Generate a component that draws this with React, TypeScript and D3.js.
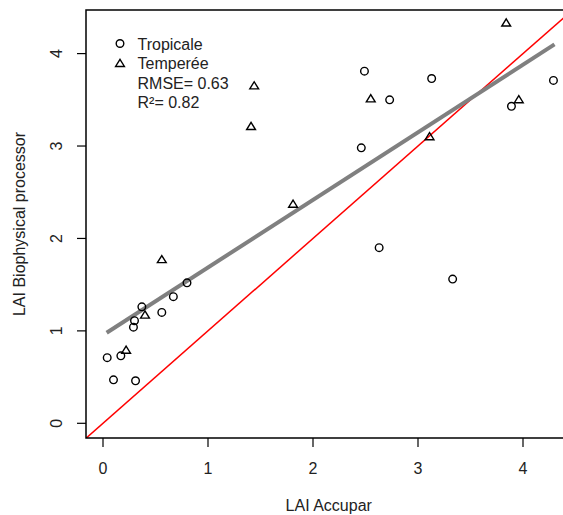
import React from "react";
import * as d3 from "d3";

const tropX = [0.04, 0.10, 0.31, 0.17, 0.29, 0.30, 0.37, 0.56, 0.67, 0.80, 2.49, 2.73, 3.13, 2.46, 4.29, 3.89, 2.63, 3.33];
const tropY = [0.71, 0.47, 0.46, 0.73, 1.04, 1.11, 1.26, 1.20, 1.37, 1.52, 3.81, 3.50, 3.73, 2.98, 3.71, 3.43, 1.90, 1.56];
const tempX = [0.40, 0.56, 0.22, 2.55, 3.11, 3.84, 3.96, 1.44, 1.41, 1.81];
const tempY = [1.17, 1.77, 0.79, 3.51, 3.10, 4.33, 3.50, 3.65, 3.21, 2.37];
const fitX = [0.035, 4.30];
const fitY = [0.98, 4.10];
const xTicks = [0, 1, 2, 3, 4];
const yTicks = [0, 1, 2, 3, 4];
const legendLabels = ["Tropicale", "Temperée", "RMSE= 0.63", "R²= 0.82"];

export default function App() {
  const W = 563, H = 515;
  const left = 86, top = 10, bottom = 438;
  const x = d3.scaleLinear().domain([0, 4]).range([103, 523]);
  const y = d3.scaleLinear().domain([0, 4]).range([423.3, 53.6]);
  const x0 = x.invert(left), x1 = x.invert(W + 5);
  const font = "Liberation Sans, Arial, sans-serif";
  const fs = 16;
  const tri = (cx: number, cy: number) => {
    const s = 4.2;
    return `M${cx},${cy - s}L${cx + s * 1.05},${cy + s * 0.7}L${cx - s * 1.05},${cy + s * 0.7}Z`;
  };
  const line = d3.line<[number, number]>().x(d => x(d[0])).y(d => y(d[1]));
  return (
    <svg width={W} height={H} style={{ position: "absolute", left: 0, top: 0 }} fontFamily={font}>
      <rect x={0} y={0} width={W} height={H} fill="white" />
      <defs>
        <clipPath id="clip">
          <rect x={left} y={top} width={W - left + 10} height={bottom - top} />
        </clipPath>
      </defs>
      <g clipPath="url(#clip)">
        <path d={line([[x0, x0], [x1, x1]]) || ""} stroke="#ff0000" strokeWidth={1.5} fill="none" />
        <path d={line([[fitX[0], fitY[0]], [fitX[1], fitY[1]]]) || ""} stroke="#808080" strokeWidth={4} fill="none" />
        {tropX.map((v, i) => (
          <circle key={"c" + i} cx={x(v)} cy={y(tropY[i])} r={3.8} fill="none" stroke="#000" strokeWidth={1.4} />
        ))}
        {tempX.map((v, i) => (
          <path key={"t" + i} d={tri(x(v), y(tempY[i]))} fill="none" stroke="#000" strokeWidth={1.4} />
        ))}
      </g>
      <path d={`M${W + 5},${top}H${left}V${bottom}H${W + 5}`} fill="none" stroke="#000" strokeWidth={1.5} />
      {xTicks.map(t => (
        <g key={"xt" + t}>
          <line x1={x(t)} x2={x(t)} y1={bottom} y2={bottom + 9} stroke="#000" strokeWidth={1.2} />
          <text x={x(t)} y={474} textAnchor="middle" fontSize={fs} fill="#222">{t}</text>
        </g>
      ))}
      {yTicks.map(t => (
        <g key={"yt" + t}>
          <line x1={left - 9} x2={left} y1={y(t)} y2={y(t)} stroke="#000" strokeWidth={1.2} />
          <text transform={`translate(62,${y(t)}) rotate(-90)`} textAnchor="middle" fontSize={fs} fill="#222">{t}</text>
        </g>
      ))}
      <text x={x(2.15)} y={511} textAnchor="middle" fontSize={fs} fill="#222">LAI Accupar</text>
      <text transform={`translate(25,${(top + bottom) / 2}) rotate(-90)`} textAnchor="middle" fontSize={fs} fill="#222">LAI Biophysical processor</text>
      <circle cx={120} cy={43.5} r={3.8} fill="none" stroke="#000" strokeWidth={1.4} />
      <path d={tri(120, 63.5)} fill="none" stroke="#000" strokeWidth={1.4} />
      {legendLabels.map((s, i) => (
        <text key={s} x={137.5} y={49.5 + i * 19.5} fontSize={fs} fill="#222">{s}</text>
      ))}
    </svg>
  );
}
